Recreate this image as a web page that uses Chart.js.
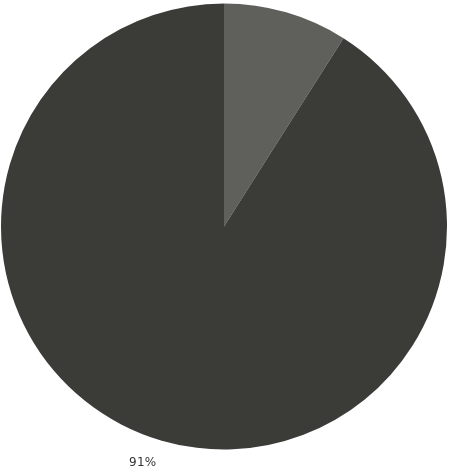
<!DOCTYPE html>
<html>
<head>
<meta charset="utf-8">
<script src="https://cdn.jsdelivr.net/npm/chart.js@4"></script>
<style>
  html, body { margin: 0; padding: 0; background: #fff; }
  #wrap { position: relative; width: 450px; height: 469px; }
  #pct { position: absolute; left: 129px; top: 455px; font: 12px "DejaVu Sans", sans-serif; color: #333; letter-spacing: 0.3px; }
</style>
</head>
<body>
<div id="wrap">
  <canvas id="pie" width="450" height="469"></canvas>
  <div id="pct"></div>
</div>
<script>
const labels = ['9%', '91%'];
const values = [9, 91];
const colors = ['#5f5f5b', '#3b3b38'];

document.getElementById('pct').innerText = labels[1];

const ctx = document.getElementById('pie').getContext('2d');
new Chart(ctx, {
    type: 'pie',
    data: { labels: labels, datasets: [{ data: values, backgroundColor: colors, borderWidth: 0 }] },
    options: {
        responsive: false, animation: false,
        layout: { padding: { top: 3, bottom: 19, left: 1, right: 3 } },
        plugins: { legend: { display: false }, tooltip: { enabled: false } }
    }
});
</script>
</body>
</html>
